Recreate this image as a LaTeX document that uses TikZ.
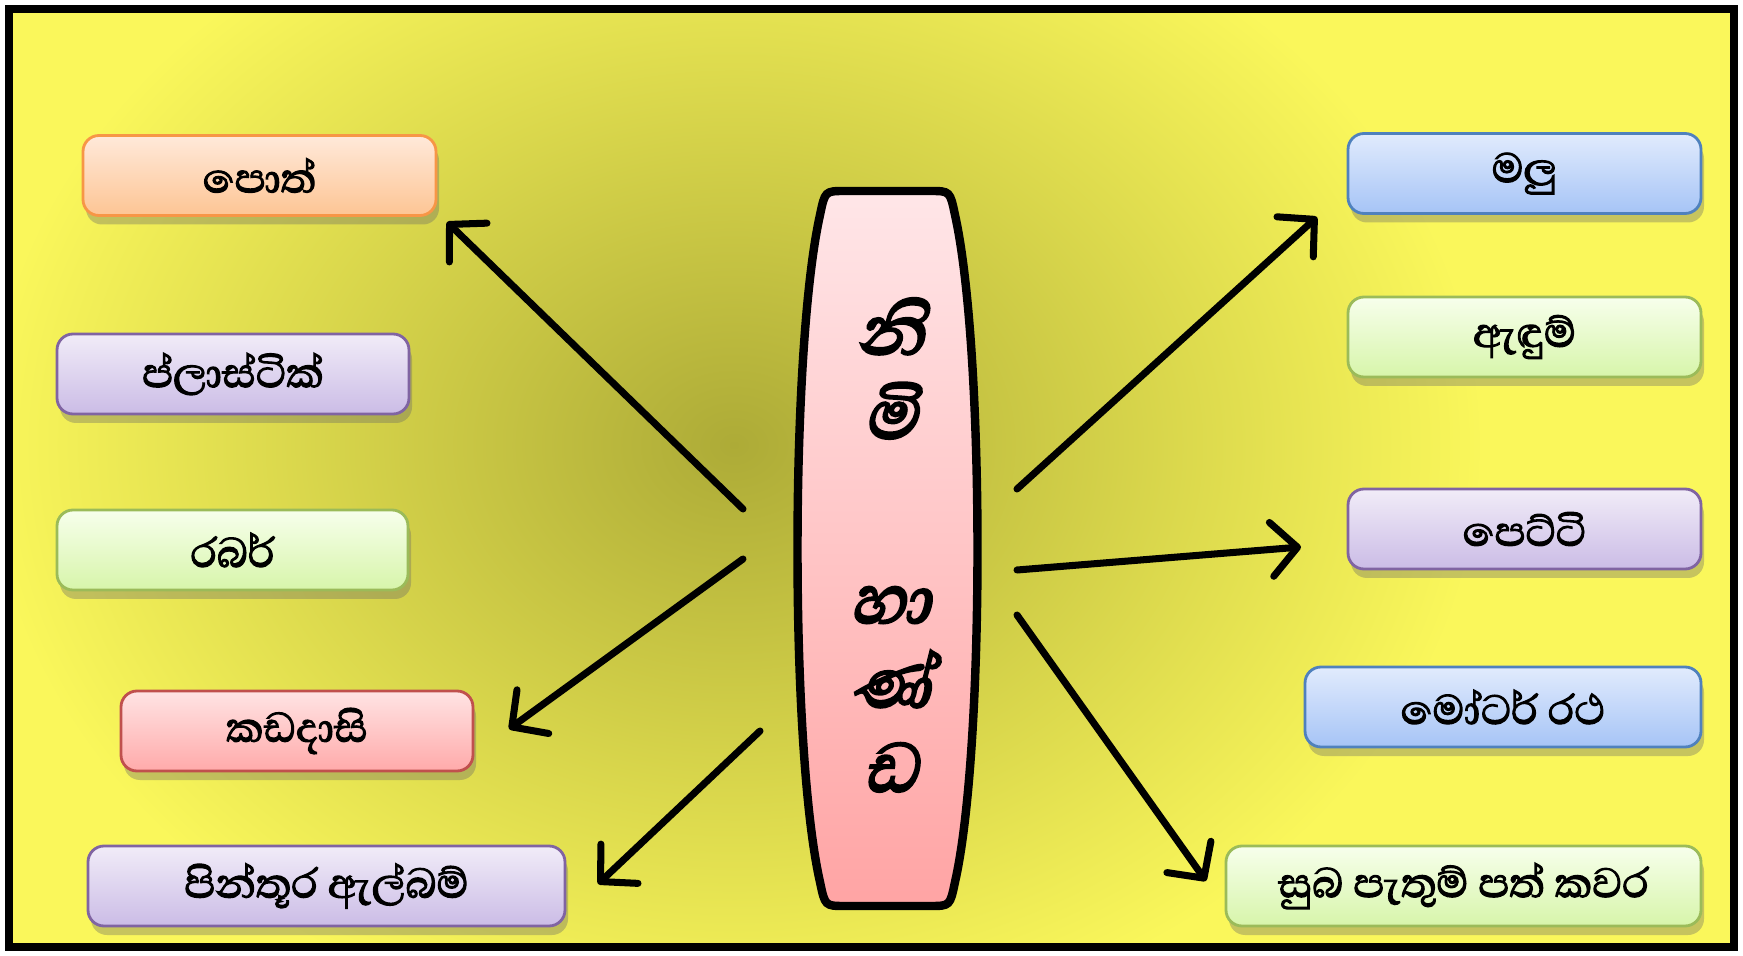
\documentclass[tikz,border=0pt]{standalone}
\usepackage{fontspec}
\usepackage{tikz}
\usetikzlibrary{arrows.meta,shadows}
\newfontfamily\sinhala[Script=Sinhala,FakeBold=2.4]{Abhaya Libre}
\newfontfamily\sinslant[Script=Sinhala,FakeSlant=0.25,FakeBold=3]{Abhaya Libre}
\newcommand\nimifont{\sinslant\fontsize{25}{24}\selectfont\lineskiplimit=-100pt\relax}

\definecolor{bgin}{HTML}{ADAB37}
\definecolor{bgout}{HTML}{FAF75B}
\definecolor{ortop}{HTML}{FFE9DA}
\definecolor{orbot}{HTML}{FDC594}
\definecolor{orline}{HTML}{F79646}
\definecolor{putop}{HTML}{F1ECF8}
\definecolor{pubot}{HTML}{CBBCE6}
\definecolor{puline}{HTML}{8064A2}
\definecolor{grtop}{HTML}{F7FFEC}
\definecolor{grbot}{HTML}{D7F5AA}
\definecolor{grline}{HTML}{9BBB59}
\definecolor{retop}{HTML}{FFE4E4}
\definecolor{rebot}{HTML}{FFAAAA}
\definecolor{reline}{HTML}{C0504D}
\definecolor{bltop}{HTML}{E1EBFD}
\definecolor{blbot}{HTML}{A6C4F6}
\definecolor{blline}{HTML}{4F81BD}
\definecolor{pitop}{HTML}{FFE6E8}
\definecolor{pibot}{HTML}{FFA4A4}

\begin{document}
\begin{tikzpicture}[
		item/.style={draw, line width=0.8pt, rounded corners=1.6mm, minimum height=8mm,
			font=\sinhala\fontsize{15}{17}\selectfont,
			drop shadow={shadow xshift=0.3mm, shadow yshift=-0.9mm, opacity=0.35, fill=black!60}},
		orbox/.style={item, draw=orline, top color=ortop, bottom color=orbot},
		pubox/.style={item, draw=puline, top color=putop, bottom color=pubot},
		grbox/.style={item, draw=grline, top color=grtop, bottom color=grbot},
		rebox/.style={item, draw=reline, top color=retop, bottom color=rebot},
		blbox/.style={item, draw=blline, top color=bltop, bottom color=blbot},
		arr/.style={-{Straight Barb[length=2.6mm, width=5.4mm, round]}, line width=2pt, line cap=round}]
			\useasboundingbox (0,0) rectangle (17.43,-9.56);
			\begin{scope}
				\clip (0.09,-0.09) rectangle (17.34,-9.47);
				\fill[bgout] (0,0) rectangle (17.43,-9.56);
				\shade[inner color=bgin, outer color=bgout] (7.34,-4.45) ellipse [x radius=7.5, y radius=6];
			\end{scope}
			\draw[line width=2.3pt] (0.09,-0.09) rectangle (17.34,-9.47);
			\node[orbox, minimum width=3.53cm] (pot) at (2.595,-1.755) {පොත්};
			\node[pubox, minimum width=3.52cm] (plastik) at (2.33,-3.74) {ප්ලාස්ටික්};
			\node[grbox, minimum width=3.51cm] (rabar) at (2.325,-5.50) {රබර්};
			\node[rebox, minimum width=3.52cm] (kadadasi) at (2.97,-7.31) {කඩදාසි};
			\node[pubox, minimum width=4.77cm] (album) at (3.265,-8.86) {පින්තූර ඇල්බම්};
			\node[blbox, minimum width=3.53cm] (malu) at (15.245,-1.735) {මලු};
			\node[grbox, minimum width=3.53cm] (endum) at (15.245,-3.37) {ඇඳුම්};
			\node[pubox, minimum width=3.53cm] (petti) at (15.245,-5.29) {පෙට්ටි};
			\node[blbox, minimum width=3.96cm] (motar) at (15.03,-7.07) {මෝටර් රථ};
			\node[grbox, minimum width=4.75cm] (suba) at (14.635,-8.86) {සුබ පැතුම් පත් කවර};
			\shade[top color=pitop, bottom color=pibot, draw=black, line width=2.4pt]
				(8.45,-1.91) -- (9.3,-1.91) .. controls (9.5,-1.91) .. (9.55,-2.15)
				.. controls (9.85,-3.5) and (9.85,-7.5) .. (9.55,-8.82)
				.. controls (9.5,-9.06) .. (9.3,-9.06) -- (8.45,-9.06)
				.. controls (8.25,-9.06) .. (8.2,-8.82)
				.. controls (7.9,-7.5) and (7.9,-3.5) .. (8.2,-2.15)
				.. controls (8.25,-1.91) .. cycle;
			\node[align=center, font=\nimifont] (nimi) at (8.9,-5.45)
				{නි\\ මි\\[1cm] හා\\ ණ්\\ ඩ};
			\coordinate (l1) at (7.43,-5.09);
			\coordinate (l2) at (7.43,-5.59);
			\coordinate (l3) at (7.60,-7.31);
			\coordinate (r1) at (10.17,-4.89);
			\coordinate (r2) at (10.17,-5.70);
			\coordinate (r3) at (10.17,-6.15);
			\coordinate (pl1) at (4.47,-2.22);
			\coordinate (pl2) at (5.09,-7.29);
			\coordinate (pl3) at (5.98,-8.84);
			\coordinate (pr1) at (13.17,-2.17);
			\coordinate (pr2) at (13.01,-5.47);
			\coordinate (pr3) at (12.06,-8.81);
			\draw[arr] (l1)--(pl1);
			\draw[arr] (l2)--(pl2);
			\draw[arr] (l3)--(pl3);
			\draw[arr] (r1)--(pr1);
			\draw[arr] (r2)--(pr2);
			\draw[arr] (r3)--(pr3);
		\end{tikzpicture}
\end{document}
